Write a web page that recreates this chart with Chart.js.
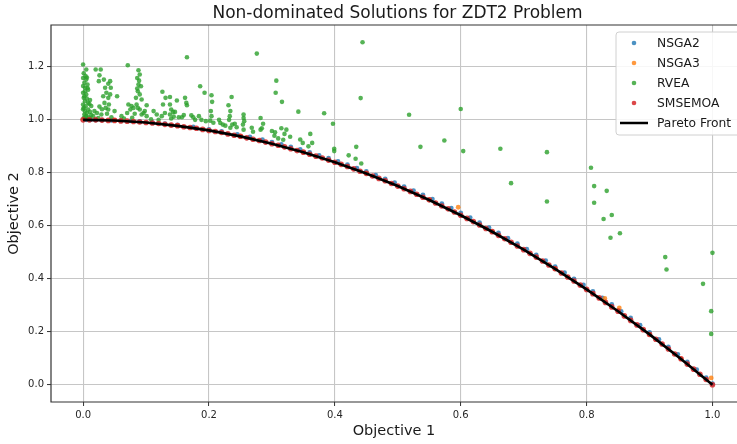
<!DOCTYPE html>
<html>
<head>
<meta charset="utf-8">
<title>Non-dominated Solutions for ZDT2 Problem</title>
<script src="https://cdn.jsdelivr.net/npm/chart.js@4.4.1/dist/chart.umd.min.js"></script>
<style>
  html, body { margin: 0; padding: 0; overflow: hidden; background: #ffffff; }
  #wrap { width: 737px; height: 444px; }
</style>
</head>
<body>
<div id="wrap"><canvas id="chart" width="737" height="444"></canvas></div>
<script>
// Tick positions for both objectives
const xTickValues = [0, 0.2, 0.4, 0.6, 0.8, 1.0];
const yTickValues = [0, 0.2, 0.4, 0.6, 0.8, 1.0, 1.2];

// Series labels, in legend order
const seriesNames = ['NSGA2', 'NSGA3', 'RVEA', 'SMSEMOA', 'Pareto Front'];

// NSGA2 final population [f1, f2]
const nsga2Points = [
  [0.005,1.000],[0.012,1.000],[0.020,0.999],[0.030,0.999],[0.045,0.998],[0.060,0.997],
  [0.075,0.996],[0.090,0.994],[0.110,0.990],[0.130,0.986],[0.150,0.981],[0.175,0.973],
  [0.200,0.964],[0.220,0.956],[0.245,0.945],[0.265,0.936],[0.285,0.925],[0.300,0.916],
  [0.315,0.907],[0.330,0.898],[0.345,0.888],[0.360,0.877],[0.375,0.866],[0.390,0.855],
  [0.405,0.843],[0.420,0.831],[0.435,0.818],[0.450,0.805],[0.465,0.791],[0.480,0.777],
  [0.495,0.763],[0.510,0.748],[0.525,0.733],[0.540,0.717],[0.555,0.701],[0.570,0.684],
  [0.585,0.667],[0.600,0.649],[0.615,0.631],[0.630,0.612],[0.645,0.593],[0.660,0.573],
  [0.675,0.553],[0.690,0.533],[0.705,0.512],[0.720,0.490],[0.735,0.469],[0.750,0.446],
  [0.765,0.423],[0.780,0.400],[0.795,0.377],[0.810,0.352],[0.825,0.328],[0.840,0.303],
  [0.855,0.277],[0.870,0.252],[0.885,0.225],[0.900,0.198],[0.915,0.171],[0.930,0.143],
  [0.945,0.115],[0.960,0.086],[0.975,0.057],[0.990,0.027],[1.000,0.004]
];

// NSGA3 final population [f1, f2]
const nsga3Points = [
  [0.050,0.998],[0.150,0.978],[0.250,0.938],[0.350,0.878],[0.450,0.798],[0.550,0.698],
  [0.596,0.670],[0.650,0.578],[0.750,0.438],[0.829,0.326],[0.852,0.290],[0.900,0.190],
  [0.950,0.098],[0.998,0.026]
];

// RVEA final population [f1, f2]
const rveaPoints = [
  [0.000,1.209],[0.005,1.190],[0.001,1.176],[0.004,1.165],[0.000,1.158],[0.005,1.152],
  [0.002,1.140],[0.007,1.133],[0.003,1.121],[0.008,1.114],[0.000,1.102],[0.005,1.096],
  [0.002,1.089],[0.006,1.080],[0.003,1.070],[0.008,1.064],[0.000,1.058],[0.004,1.051],
  [0.001,1.045],[0.008,1.039],[0.003,1.032],[0.011,1.030],[0.006,1.026],[0.002,1.020],
  [0.013,1.018],[0.005,1.014],[0.009,1.010],[0.001,1.007],[0.011,1.005],[0.004,1.003],
  [0.007,1.120],[0.010,1.060],[0.013,1.052],[0.011,1.075],[0.000,1.128],[0.003,1.108],
  [0.001,1.083],[0.006,1.160],[0.000,1.040],[0.004,1.012],
  [0.020,1.190],[0.028,1.190],[0.026,1.168],[0.033,1.152],[0.025,1.146],[0.040,1.136],
  [0.043,1.146],[0.035,1.121],[0.044,1.121],[0.037,1.102],[0.043,1.096],[0.032,1.089],
  [0.040,1.083],[0.054,1.089],[0.034,1.064],[0.041,1.058],[0.036,1.045],[0.040,1.039],
  [0.038,1.023],[0.018,1.033],[0.022,1.026],[0.016,1.014],[0.024,1.007],[0.029,1.020],
  [0.050,1.033],[0.061,1.014],[0.045,1.010],[0.030,1.040],[0.026,1.050],
  [0.071,1.206],[0.088,1.187],[0.090,1.171],[0.086,1.158],[0.089,1.148],[0.088,1.133],
  [0.086,1.118],[0.092,1.127],[0.087,1.108],[0.090,1.096],[0.084,1.083],[0.093,1.077],
  [0.072,1.058],[0.077,1.052],[0.075,1.039],[0.080,1.045],[0.085,1.058],[0.087,1.045],
  [0.090,1.039],[0.070,1.026],[0.082,1.023],[0.093,1.020],[0.096,1.026],[0.098,1.033],
  [0.101,1.055],[0.112,1.033],[0.101,1.014],[0.065,1.005],[0.078,1.008],
  [0.126,1.106],[0.131,1.083],[0.127,1.058],[0.117,1.020],[0.125,1.014],[0.130,1.026],
  [0.140,1.039],[0.143,1.030],[0.138,1.086],[0.138,1.058],[0.138,1.020],[0.149,1.073],
  [0.162,1.083],[0.164,1.064],[0.165,1.055],[0.165,1.236],[0.146,1.030],[0.144,1.012],
  [0.152,1.010],[0.157,1.010],[0.160,1.018],[0.140,1.005],[0.120,1.000],[0.108,1.002],
  [0.172,1.017],[0.175,1.010],[0.184,1.014],[0.188,1.000],[0.186,1.127],[0.193,1.102],
  [0.204,1.093],[0.205,1.068],[0.203,1.033],[0.204,1.014],[0.207,0.989],[0.202,0.997],
  [0.216,1.000],[0.218,0.988],[0.222,0.982],[0.226,0.978],[0.236,1.086],[0.231,1.055],
  [0.234,1.033],[0.233,1.014],[0.232,1.000],[0.237,0.982],[0.234,0.970],[0.241,0.985],
  [0.244,0.972],[0.195,0.995],[0.178,1.000],
  [0.255,1.020],[0.255,1.007],[0.256,0.995],[0.254,0.982],[0.255,0.963],[0.268,0.970],
  [0.270,0.955],[0.276,1.250],[0.282,1.007],[0.286,0.985],[0.282,0.963],[0.284,0.968],
  [0.305,0.953],[0.307,1.148],[0.306,1.102],[0.316,1.068],[0.320,0.947],[0.323,0.963],
  [0.304,0.940],[0.310,0.930],[0.318,0.925],[0.315,0.968],[0.329,0.936],[0.300,0.958],
  [0.342,1.031],[0.345,0.926],[0.349,0.913],[0.361,0.947],[0.364,0.913],[0.358,0.900],
  [0.383,1.025],[0.397,0.985],[0.399,0.891],[0.399,0.882],[0.434,0.898],[0.422,0.866],
  [0.433,0.853],[0.442,0.835],[0.441,1.082],[0.444,1.293],
  [0.518,1.019],[0.536,0.898],[0.574,0.922],[0.600,1.041],[0.604,0.882],[0.663,0.891],
  [0.680,0.761],[0.737,0.878],[0.737,0.692],[0.807,0.819],[0.812,0.750],[0.832,0.732],
  [0.812,0.687],[0.827,0.626],[0.840,0.641],[0.838,0.555],[0.853,0.572],[0.925,0.482],
  [0.927,0.435],[0.985,0.381],[1.000,0.498],[0.998,0.278],[0.998,0.192]
];

// SMSEMOA final population [f1, f2]
const smsemoaPoints = [
  [0.00,1.000],[0.01,1.000],[0.02,1.000],[0.03,0.999],[0.04,0.998],[0.05,0.998],
  [0.06,0.996],[0.07,0.995],[0.08,0.994],[0.09,0.992],[0.10,0.990],[0.11,0.988],
  [0.12,0.986],[0.13,0.983],[0.14,0.980],[0.15,0.978],[0.16,0.974],[0.17,0.971],
  [0.18,0.968],[0.19,0.964],[0.20,0.960],[0.21,0.956],[0.22,0.952],[0.23,0.947],
  [0.24,0.942],[0.25,0.938],[0.26,0.932],[0.27,0.927],[0.28,0.922],[0.29,0.916],
  [0.30,0.910],[0.31,0.904],[0.32,0.898],[0.33,0.891],[0.34,0.884],[0.35,0.878],
  [0.36,0.870],[0.37,0.863],[0.38,0.856],[0.39,0.848],[0.40,0.840],[0.41,0.832],
  [0.42,0.824],[0.43,0.815],[0.44,0.806],[0.45,0.798],[0.46,0.788],[0.47,0.779],
  [0.48,0.770],[0.49,0.760],[0.50,0.750],[0.51,0.740],[0.52,0.730],[0.53,0.719],
  [0.54,0.708],[0.55,0.698],[0.56,0.686],[0.57,0.675],[0.58,0.664],[0.59,0.652],
  [0.60,0.640],[0.61,0.628],[0.62,0.616],[0.63,0.603],[0.64,0.590],[0.65,0.578],
  [0.66,0.564],[0.67,0.551],[0.68,0.538],[0.69,0.524],[0.70,0.510],[0.71,0.496],
  [0.72,0.482],[0.73,0.467],[0.74,0.452],[0.75,0.438],[0.76,0.422],[0.77,0.407],
  [0.78,0.392],[0.79,0.376],[0.80,0.360],[0.81,0.344],[0.82,0.328],[0.83,0.311],
  [0.84,0.294],[0.85,0.278],[0.86,0.260],[0.87,0.243],[0.88,0.226],[0.89,0.208],
  [0.90,0.190],[0.91,0.172],[0.92,0.154],[0.93,0.135],[0.94,0.116],[0.95,0.098],
  [0.96,0.078],[0.97,0.059],[0.98,0.040],[0.99,0.020],[1.00,0.000]
];

// True Pareto front of ZDT2, sampled
const paretoFrontPoints = [
  [0.00,1.0000],[0.05,0.9975],[0.10,0.9900],[0.15,0.9775],[0.20,0.9600],[0.25,0.9375],
  [0.30,0.9100],[0.35,0.8775],[0.40,0.8400],[0.45,0.7975],[0.50,0.7500],[0.55,0.6975],
  [0.60,0.6400],[0.65,0.5775],[0.70,0.5100],[0.75,0.4375],[0.80,0.3600],[0.85,0.2775],
  [0.90,0.1900],[0.95,0.0975],[1.00,0.0000]
];

const toXY = pts => pts.map(p => ({ x: p[0], y: p[1] }));

Chart.defaults.font.family = "'DejaVu Sans', 'Liberation Sans', sans-serif";
Chart.defaults.color = '#262626';

const pointStyle = (color, r) => ({
  backgroundColor: color,
  borderColor: color,
  borderWidth: 0,
  pointRadius: r,
  pointHoverRadius: r,
  showLine: false
});

const datasets = [
  Object.assign({ label: seriesNames[0], data: toXY(nsga2Points), order: 4 }, pointStyle('rgba(31,119,180,0.8)', 2.4)),
  Object.assign({ label: seriesNames[1], data: toXY(nsga3Points), order: 3 }, pointStyle('rgba(255,127,14,0.8)', 2.4)),
  Object.assign({ label: seriesNames[2], data: toXY(rveaPoints), order: 2 }, pointStyle('rgba(44,160,44,0.8)', 2.3)),
  Object.assign({ label: seriesNames[3], data: toXY(smsemoaPoints), order: 1 }, pointStyle('rgba(214,39,40,0.85)', 2.8)),
  {
    label: seriesNames[4],
    data: toXY(paretoFrontPoints),
    order: 0,
    showLine: true,
    borderColor: '#000000',
    backgroundColor: '#000000',
    borderWidth: 2.7,
    pointRadius: 0,
    pointHoverRadius: 0,
    tension: 0,
    fill: false
  }
];

// Title centred over the full axes span, whose right end lies past the canvas edge
const titleShiftPlugin = {
  id: 'titleShift',
  afterLayout(chart) {
    const t = chart.titleBlock;
    if (t) { t.left += 3.5; t.right += 3.5; }
  }
};

// Spines on the top, left and bottom of the plot area, drawn over the data
const framePlugin = {
  id: 'frame',
  afterDatasetsDraw(chart) {
    const { ctx, chartArea: a } = chart;
    ctx.save();
    ctx.strokeStyle = '#333333';
    ctx.lineWidth = 1.2;
    ctx.beginPath();
    ctx.moveTo(a.right + 1, a.top);
    ctx.lineTo(a.left, a.top);
    ctx.lineTo(a.left, a.bottom);
    ctx.lineTo(a.right + 1, a.bottom);
    ctx.stroke();
    ctx.restore();
  }
};

// Legend box in the upper-right corner of the plot
const insideLegendPlugin = {
  id: 'insideLegend',
  afterDraw(chart) {
    const { ctx } = chart;
    const boxX = 616, boxY = 32, boxW = 150, boxH = 103, rowH = 20;
    ctx.save();
    ctx.beginPath();
    ctx.roundRect(boxX, boxY, boxW, boxH, 3);
    ctx.fillStyle = 'rgba(255,255,255,0.85)';
    ctx.fill();
    ctx.strokeStyle = '#d0d0d0';
    ctx.lineWidth = 1;
    ctx.stroke();
    ctx.font = "12.3px 'DejaVu Sans', sans-serif";
    ctx.textBaseline = 'middle';
    ctx.textAlign = 'left';
    chart.data.datasets.forEach((ds, i) => {
      const cy = boxY + 11 + i * rowH;
      if (ds.showLine) {
        ctx.strokeStyle = ds.borderColor;
        ctx.lineWidth = 2.5;
        ctx.beginPath();
        ctx.moveTo(620, cy);
        ctx.lineTo(648, cy);
        ctx.stroke();
      } else {
        ctx.fillStyle = ds.backgroundColor;
        ctx.beginPath();
        ctx.arc(634, cy, 2.3, 0, Math.PI * 2);
        ctx.fill();
      }
      ctx.fillStyle = '#1a1a1a';
      ctx.fillText(ds.label, 657, cy + 0.5);
    });
    ctx.restore();
  }
};

new Chart(document.getElementById('chart'), {
  type: 'scatter',
  data: { datasets },
  plugins: [titleShiftPlugin, framePlugin, insideLegendPlugin],
  options: {
    responsive: false,
    animation: false,
    devicePixelRatio: 1,
    layout: { padding: 0, autoPadding: false },
    plugins: {
      legend: { display: false },
      tooltip: { enabled: false },
      title: {
        display: true,
        text: 'Non-dominated Solutions for ZDT2 Problem',
        fullSize: false,
        color: '#1a1a1a',
        font: { size: 17, weight: 'normal' },
        padding: { top: 3, bottom: 1.6 }
      }
    },
    scales: {
      x: {
        type: 'linear',
        min: -0.051,
        max: 1.039,
        afterBuildTicks: s => { s.ticks = xTickValues.map(v => ({ value: v })); },
        afterFit: s => { s.height = 42; s.paddingLeft = 0; s.paddingRight = 0; },
        ticks: {
          callback: v => Number(v).toFixed(1),
          font: { size: 10 },
          color: '#262626',
          padding: 3,
          maxRotation: 0,
          autoSkip: false
        },
        grid: { color: '#c6c6c6', lineWidth: 1.1, tickColor: '#333333', tickLength: 4, tickWidth: 1 },
        border: { display: false },
        title: {
          display: true,
          text: 'Objective 1',
          color: '#1a1a1a',
          font: { size: 14.5 },
          padding: { top: 0, bottom: 4 }
        }
      },
      y: {
        type: 'linear',
        min: -0.065,
        max: 1.358,
        afterBuildTicks: s => { s.ticks = yTickValues.map(v => ({ value: v })); },
        afterFit: s => { s.width = 51; s.paddingTop = 0; s.paddingBottom = 0; },
        ticks: {
          callback: v => Number(v).toFixed(1),
          font: { size: 10 },
          color: '#262626',
          padding: 3,
          autoSkip: false
        },
        grid: { color: '#c6c6c6', lineWidth: 1.1, tickColor: '#333333', tickLength: 4, tickWidth: 1 },
        border: { display: false },
        title: {
          display: true,
          text: 'Objective 2',
          color: '#1a1a1a',
          font: { size: 14.5 },
          padding: { top: 6, bottom: 0 }
        }
      }
    }
  }
});
</script>
</body>
</html>
